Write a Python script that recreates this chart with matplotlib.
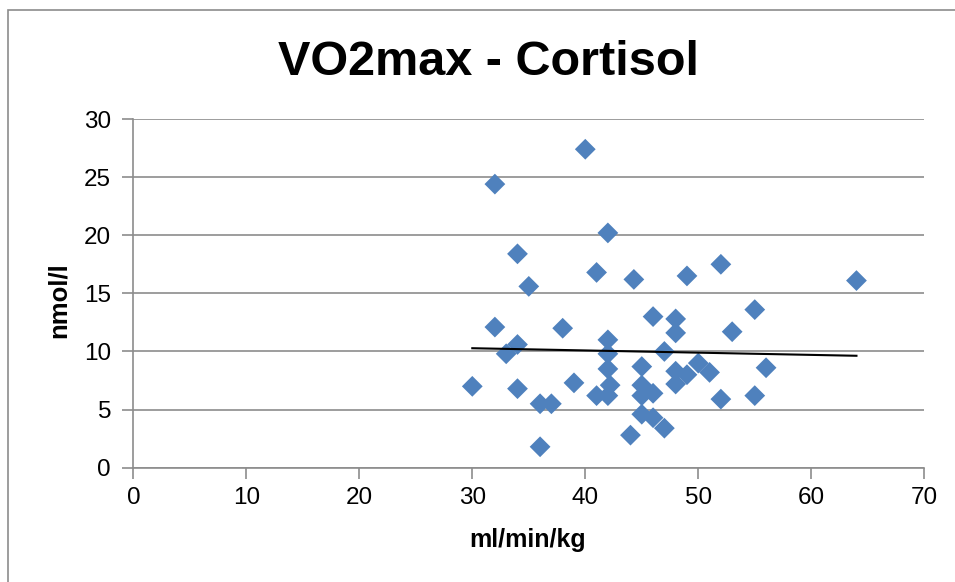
import matplotlib

matplotlib.use("Agg")
import matplotlib.pyplot as plt
from matplotlib.patches import Rectangle

# VO2max (ml/min/kg) and cortisol (nmol/l)
vo2max = [30, 32, 32, 33, 34, 34, 34, 35, 36, 37, 36, 38, 39, 40, 41, 41,
          42, 42, 42, 42, 42.2, 42, 44, 44.3, 45, 45, 45, 45, 46, 46, 46,
          47, 47, 48, 48, 48, 48, 49, 49, 50, 51, 52, 52, 53, 55, 55, 56, 64]
cortisol = [7.0, 12.1, 24.4, 9.8, 10.6, 6.8, 18.4, 15.6, 5.5, 5.5, 1.8, 12.0,
            7.3, 27.4, 16.8, 6.2, 20.2, 11.0, 9.8, 8.5, 7.1, 6.2, 2.8, 16.2,
            8.7, 7.1, 6.2, 4.6, 6.4, 4.3, 13.0, 3.4, 10.0, 12.8, 11.6, 8.3,
            7.2, 8.0, 16.5, 9.0, 8.2, 17.5, 5.9, 11.7, 13.6, 6.2, 8.6, 16.1]

# linear trendline as drawn in the reference (start / end)
trend_x = [30, 64]
trend_y = [10.28, 9.63]

x_ticks = [0, 10, 20, 30, 40, 50, 60, 70]
y_ticks = [0, 5, 10, 15, 20, 25, 30]

plt.rcParams["font.family"] = ["Liberation Sans", "DejaVu Sans"]

fig = plt.figure(figsize=(9.55, 5.82), dpi=100)
ax = fig.add_axes([0.1396, 0.1964, 0.8282, 0.5991])

# chart border (only top/left visible in the reference)
fig.patches.append(Rectangle((8 / 955, -0.05), 1.1, 1 - 10 / 582 + 0.05,
                             transform=fig.transFigure, fill=False,
                             edgecolor="#8c8c8c", linewidth=1.2))

ax.scatter(vo2max, cortisol, marker="D", s=112, color="#4F81BD",
           edgecolors="none", zorder=3, clip_on=False)
ax.plot(trend_x, trend_y, color="black", linewidth=1.5, zorder=4)

ax.set_xlim(0, 70)
ax.set_ylim(0, 30)
ax.set_xticks(x_ticks)
ax.set_yticks(y_ticks)
ax.tick_params(labelsize=17.5, colors="#8c8c8c", labelcolor="black",
               length=8, width=1.2, direction="out")
ax.tick_params(axis="y", pad=8)
ax.tick_params(axis="x", pad=6)
ax.grid(axis="y", color="#8c8c8c", linewidth=1.2)
ax.set_axisbelow(True)
for side in ("top", "right"):
    ax.spines[side].set_visible(False)
for side in ("left", "bottom"):
    ax.spines[side].set_color("#8c8c8c")
    ax.spines[side].set_linewidth(1.2)

fig.text(0.5115, 1 - 75 / 582, "VO2max - Cortisol", ha="center", va="baseline",
         fontsize=35, fontweight="bold")
fig.text(0.552, 1 - 547 / 582, "ml/min/kg", ha="center", va="baseline",
         fontsize=18, fontweight="bold")
fig.text(58.5 / 955, 1 - 300.5 / 582, "nmol/l", ha="center", va="center",
         rotation=90, fontsize=18.5, fontweight="bold")

fig.savefig("out.png", dpi=100)
